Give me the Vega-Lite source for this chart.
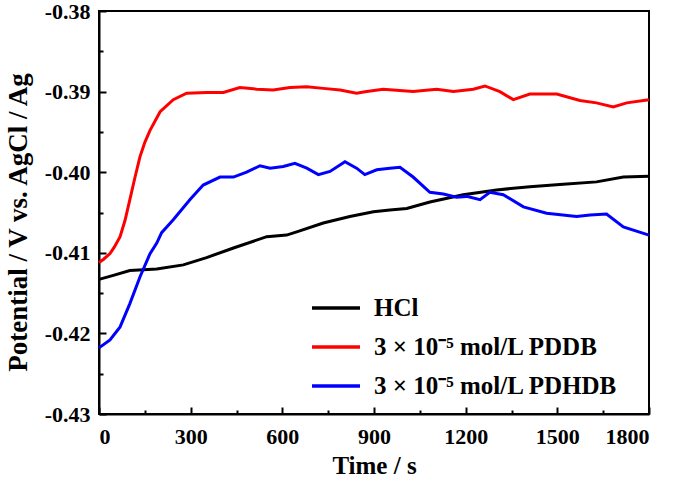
{
  "$schema": "https://vega.github.io/schema/vega-lite/v6.json",
  "autosize": {"type": "none"},
  "width": 550,
  "height": 403,
  "padding": {"left": 99, "top": 11, "right": 26, "bottom": 66},
  "background": "white",
  "config": {
    "view": {"stroke": "black", "strokeWidth": 2},
    "font": "Liberation Serif",
    "axis": {
      "grid": false,
      "domainColor": "black",
      "domainWidth": 2,
      "tickColor": "black",
      "tickWidth": 2,
      "labelColor": "black",
      "labelFont": "Liberation Serif",
      "labelFontWeight": "bold",
      "labelFontSize": 22,
      "titleColor": "black",
      "titleFont": "Liberation Serif",
      "titleFontWeight": "bold",
      "titleFontSize": 25
    }
  },
  "data": {
    "values": [
      {"t": 0, "v": -0.4133, "s": "HCl"},
      {"t": 47, "v": -0.4128, "s": "HCl"},
      {"t": 101, "v": -0.4122, "s": "HCl"},
      {"t": 189, "v": -0.4120, "s": "HCl"},
      {"t": 276, "v": -0.4115, "s": "HCl"},
      {"t": 352, "v": -0.4106, "s": "HCl"},
      {"t": 440, "v": -0.4094, "s": "HCl"},
      {"t": 549, "v": -0.4080, "s": "HCl"},
      {"t": 614, "v": -0.4078, "s": "HCl"},
      {"t": 647, "v": -0.4074, "s": "HCl"},
      {"t": 734, "v": -0.4063, "s": "HCl"},
      {"t": 821, "v": -0.4055, "s": "HCl"},
      {"t": 898, "v": -0.4049, "s": "HCl"},
      {"t": 952, "v": -0.4047, "s": "HCl"},
      {"t": 1007, "v": -0.4045, "s": "HCl"},
      {"t": 1083, "v": -0.4037, "s": "HCl"},
      {"t": 1192, "v": -0.4028, "s": "HCl"},
      {"t": 1301, "v": -0.4022, "s": "HCl"},
      {"t": 1410, "v": -0.4018, "s": "HCl"},
      {"t": 1519, "v": -0.4015, "s": "HCl"},
      {"t": 1628, "v": -0.4012, "s": "HCl"},
      {"t": 1716, "v": -0.4006, "s": "HCl"},
      {"t": 1800, "v": -0.4005, "s": "HCl"},

      {"t": 0, "v": -0.4112, "s": "3 × 10⁻⁵ mol/L PDDB"},
      {"t": 15, "v": -0.4108, "s": "3 × 10⁻⁵ mol/L PDDB"},
      {"t": 36, "v": -0.4101, "s": "3 × 10⁻⁵ mol/L PDDB"},
      {"t": 50, "v": -0.4093, "s": "3 × 10⁻⁵ mol/L PDDB"},
      {"t": 69, "v": -0.4080, "s": "3 × 10⁻⁵ mol/L PDDB"},
      {"t": 85, "v": -0.4060, "s": "3 × 10⁻⁵ mol/L PDDB"},
      {"t": 101, "v": -0.4034, "s": "3 × 10⁻⁵ mol/L PDDB"},
      {"t": 118, "v": -0.4006, "s": "3 × 10⁻⁵ mol/L PDDB"},
      {"t": 134, "v": -0.3981, "s": "3 × 10⁻⁵ mol/L PDDB"},
      {"t": 150, "v": -0.3963, "s": "3 × 10⁻⁵ mol/L PDDB"},
      {"t": 167, "v": -0.3948, "s": "3 × 10⁻⁵ mol/L PDDB"},
      {"t": 200, "v": -0.3925, "s": "3 × 10⁻⁵ mol/L PDDB"},
      {"t": 243, "v": -0.3910, "s": "3 × 10⁻⁵ mol/L PDDB"},
      {"t": 287, "v": -0.3902, "s": "3 × 10⁻⁵ mol/L PDDB"},
      {"t": 352, "v": -0.3901, "s": "3 × 10⁻⁵ mol/L PDDB"},
      {"t": 407, "v": -0.3901, "s": "3 × 10⁻⁵ mol/L PDDB"},
      {"t": 461, "v": -0.3895, "s": "3 × 10⁻⁵ mol/L PDDB"},
      {"t": 516, "v": -0.3897, "s": "3 × 10⁻⁵ mol/L PDDB"},
      {"t": 570, "v": -0.3898, "s": "3 × 10⁻⁵ mol/L PDDB"},
      {"t": 625, "v": -0.3895, "s": "3 × 10⁻⁵ mol/L PDDB"},
      {"t": 680, "v": -0.3894, "s": "3 × 10⁻⁵ mol/L PDDB"},
      {"t": 734, "v": -0.3896, "s": "3 × 10⁻⁵ mol/L PDDB"},
      {"t": 789, "v": -0.3898, "s": "3 × 10⁻⁵ mol/L PDDB"},
      {"t": 843, "v": -0.3902, "s": "3 × 10⁻⁵ mol/L PDDB"},
      {"t": 876, "v": -0.3900, "s": "3 × 10⁻⁵ mol/L PDDB"},
      {"t": 930, "v": -0.3897, "s": "3 × 10⁻⁵ mol/L PDDB"},
      {"t": 1028, "v": -0.3900, "s": "3 × 10⁻⁵ mol/L PDDB"},
      {"t": 1105, "v": -0.3897, "s": "3 × 10⁻⁵ mol/L PDDB"},
      {"t": 1160, "v": -0.3900, "s": "3 × 10⁻⁵ mol/L PDDB"},
      {"t": 1225, "v": -0.3897, "s": "3 × 10⁻⁵ mol/L PDDB"},
      {"t": 1263, "v": -0.3893, "s": "3 × 10⁻⁵ mol/L PDDB"},
      {"t": 1312, "v": -0.3900, "s": "3 × 10⁻⁵ mol/L PDDB"},
      {"t": 1356, "v": -0.3910, "s": "3 × 10⁻⁵ mol/L PDDB"},
      {"t": 1410, "v": -0.3903, "s": "3 × 10⁻⁵ mol/L PDDB"},
      {"t": 1498, "v": -0.3903, "s": "3 × 10⁻⁵ mol/L PDDB"},
      {"t": 1574, "v": -0.3911, "s": "3 × 10⁻⁵ mol/L PDDB"},
      {"t": 1628, "v": -0.3914, "s": "3 × 10⁻⁵ mol/L PDDB"},
      {"t": 1683, "v": -0.3919, "s": "3 × 10⁻⁵ mol/L PDDB"},
      {"t": 1727, "v": -0.3914, "s": "3 × 10⁻⁵ mol/L PDDB"},
      {"t": 1800, "v": -0.3910, "s": "3 × 10⁻⁵ mol/L PDDB"},

      {"t": 0, "v": -0.4218, "s": "3 × 10⁻⁵ mol/L PDHDB"},
      {"t": 36, "v": -0.4208, "s": "3 × 10⁻⁵ mol/L PDHDB"},
      {"t": 69, "v": -0.4192, "s": "3 × 10⁻⁵ mol/L PDHDB"},
      {"t": 101, "v": -0.4163, "s": "3 × 10⁻⁵ mol/L PDHDB"},
      {"t": 134, "v": -0.4130, "s": "3 × 10⁻⁵ mol/L PDHDB"},
      {"t": 167, "v": -0.4101, "s": "3 × 10⁻⁵ mol/L PDHDB"},
      {"t": 189, "v": -0.4088, "s": "3 × 10⁻⁵ mol/L PDHDB"},
      {"t": 205, "v": -0.4075, "s": "3 × 10⁻⁵ mol/L PDHDB"},
      {"t": 243, "v": -0.4059, "s": "3 × 10⁻⁵ mol/L PDHDB"},
      {"t": 298, "v": -0.4034, "s": "3 × 10⁻⁵ mol/L PDHDB"},
      {"t": 341, "v": -0.4016, "s": "3 × 10⁻⁵ mol/L PDHDB"},
      {"t": 396, "v": -0.4006, "s": "3 × 10⁻⁵ mol/L PDHDB"},
      {"t": 440, "v": -0.4006, "s": "3 × 10⁻⁵ mol/L PDHDB"},
      {"t": 483, "v": -0.4000, "s": "3 × 10⁻⁵ mol/L PDHDB"},
      {"t": 527, "v": -0.3992, "s": "3 × 10⁻⁵ mol/L PDHDB"},
      {"t": 560, "v": -0.3995, "s": "3 × 10⁻⁵ mol/L PDHDB"},
      {"t": 603, "v": -0.3993, "s": "3 × 10⁻⁵ mol/L PDHDB"},
      {"t": 641, "v": -0.3989, "s": "3 × 10⁻⁵ mol/L PDHDB"},
      {"t": 680, "v": -0.3995, "s": "3 × 10⁻⁵ mol/L PDHDB"},
      {"t": 718, "v": -0.4003, "s": "3 × 10⁻⁵ mol/L PDHDB"},
      {"t": 756, "v": -0.3999, "s": "3 × 10⁻⁵ mol/L PDHDB"},
      {"t": 805, "v": -0.3987, "s": "3 × 10⁻⁵ mol/L PDHDB"},
      {"t": 843, "v": -0.3995, "s": "3 × 10⁻⁵ mol/L PDHDB"},
      {"t": 870, "v": -0.4003, "s": "3 × 10⁻⁵ mol/L PDHDB"},
      {"t": 909, "v": -0.3997, "s": "3 × 10⁻⁵ mol/L PDHDB"},
      {"t": 952, "v": -0.3995, "s": "3 × 10⁻⁵ mol/L PDHDB"},
      {"t": 985, "v": -0.3994, "s": "3 × 10⁻⁵ mol/L PDHDB"},
      {"t": 1028, "v": -0.4006, "s": "3 × 10⁻⁵ mol/L PDHDB"},
      {"t": 1083, "v": -0.4025, "s": "3 × 10⁻⁵ mol/L PDHDB"},
      {"t": 1127, "v": -0.4027, "s": "3 × 10⁻⁵ mol/L PDHDB"},
      {"t": 1170, "v": -0.4031, "s": "3 × 10⁻⁵ mol/L PDHDB"},
      {"t": 1203, "v": -0.4030, "s": "3 × 10⁻⁵ mol/L PDHDB"},
      {"t": 1247, "v": -0.4034, "s": "3 × 10⁻⁵ mol/L PDHDB"},
      {"t": 1279, "v": -0.4025, "s": "3 × 10⁻⁵ mol/L PDHDB"},
      {"t": 1323, "v": -0.4028, "s": "3 × 10⁻⁵ mol/L PDHDB"},
      {"t": 1389, "v": -0.4043, "s": "3 × 10⁻⁵ mol/L PDHDB"},
      {"t": 1465, "v": -0.4051, "s": "3 × 10⁻⁵ mol/L PDHDB"},
      {"t": 1563, "v": -0.4055, "s": "3 × 10⁻⁵ mol/L PDHDB"},
      {"t": 1607, "v": -0.4053, "s": "3 × 10⁻⁵ mol/L PDHDB"},
      {"t": 1661, "v": -0.4052, "s": "3 × 10⁻⁵ mol/L PDHDB"},
      {"t": 1716, "v": -0.4068, "s": "3 × 10⁻⁵ mol/L PDHDB"},
      {"t": 1800, "v": -0.4078, "s": "3 × 10⁻⁵ mol/L PDHDB"}
    ]
  },
  "layer": [
    {
      "mark": {"type": "line", "strokeWidth": 3},
      "encoding": {
        "x": {
          "field": "t", "type": "quantitative",
          "scale": {"domain": [0, 1800], "nice": false, "zero": false},
          "axis": {"values": [0, 300, 600, 900, 1200, 1500, 1800], "format": "d", "tickSize": -7, "labelPadding": 19, "title": "Time / s", "titlePadding": 6}
        },
        "y": {
          "field": "v", "type": "quantitative",
          "scale": {"domain": [-0.43, -0.38], "nice": false, "zero": false},
          "axis": {"values": [-0.43, -0.42, -0.41, -0.40, -0.39, -0.38], "tickSize": -7, "labelPadding": 16, "labelExpr": "'-' + format(abs(datum.value), '.2f')", "title": "Potential / V vs. AgCl / Ag", "titleFontSize": 27, "titlePadding": 12, "titleY": 211}
        },
        "color": {
          "field": "s", "type": "nominal",
          "scale": {"domain": ["HCl", "3 × 10⁻⁵ mol/L PDDB", "3 × 10⁻⁵ mol/L PDHDB"], "range": ["#000000", "#ff0000", "#0000ff"]},
          "legend": {
            "title": null, "orient": "none", "legendX": 211, "legendY": 271,
            "symbolType": "stroke", "symbolSize": 2304, "symbolStrokeWidth": 3.5,
            "labelFont": "Liberation Serif", "labelFontWeight": "bold", "labelFontSize": 25, "labelColor": "black",
            "labelOffset": 12, "rowPadding": -14, "padding": 0, "labelLimit": 400
          }
        }
      }
    },
    {
      "mark": {"type": "point", "opacity": 0},
      "encoding": {
        "x": {
          "field": "t", "type": "quantitative",
          "axis": {"orient": "bottom", "values": [150, 450, 750, 1050, 1350, 1650], "tickSize": -4, "labels": false, "domain": false, "title": null}
        },
        "y": {
          "field": "v", "type": "quantitative",
          "axis": {"orient": "left", "values": [-0.425, -0.415, -0.405, -0.395, -0.385], "tickSize": -4, "labels": false, "domain": false, "title": null}
        }
      }
    }
  ],
  "resolve": {"axis": {"x": "independent", "y": "independent"}}
}
